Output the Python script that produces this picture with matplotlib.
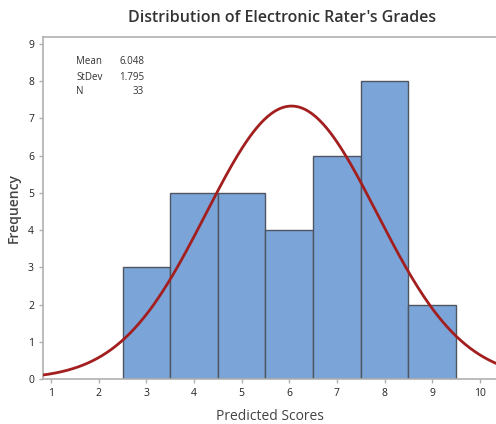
import numpy as np
import matplotlib
matplotlib.use("Agg")
import matplotlib.pyplot as plt

# histogram data
bin_centers = [3, 4, 5, 6, 7, 8, 9]
counts = [3, 5, 5, 4, 6, 8, 2]
mean = 6.048
stdev = 1.795
n = 33
x_ticks = [1, 2, 3, 4, 5, 6, 7, 8, 9, 10]
y_ticks = [0, 1, 2, 3, 4, 5, 6, 7, 8, 9]

plt.rcParams['font.family'] = ['Open Sans', 'DejaVu Sans']

fig = plt.figure(figsize=(4.96, 4.24), dpi=100)
ax = fig.add_axes([43 / 496, 1 - 379 / 424, 1 - 43 / 496, (379 - 37) / 424])

ax.bar(bin_centers, counts, width=1.0, color='#7BA5D9', edgecolor='#4F5560', linewidth=1.0, zorder=2)

# fitted normal curve scaled to counts (bin width 1)
xs = np.linspace(0.8, 10.5, 400)
ys = n * 1.0 / (stdev * np.sqrt(2 * np.pi)) * np.exp(-0.5 * ((xs - mean) / stdev) ** 2)
ax.plot(xs, ys, color='#A31F1F', linewidth=2, zorder=3)

ax.set_xlim(0.83, 10.34)
ax.set_ylim(0, 9.19)
ax.set_xticks(x_ticks)
ax.set_yticks(y_ticks)
ax.tick_params(axis='both', colors='#b0b0b0', labelcolor='#222222', labelsize=7.5, length=3, width=1)

for side in ['top', 'left', 'bottom']:
    ax.spines[side].set_color('#b0b0b0')
    ax.spines[side].set_linewidth(1.2)
ax.spines['right'].set_visible(False)

ax.set_xlabel('Predicted Scores', fontsize=10, color='#444444', labelpad=7)
ax.set_ylabel('Frequency', fontsize=10, color='#444444', fontweight='semibold', labelpad=5)
fig.text(282 / 496, 1 - 18 / 424, "Distribution of Electronic Rater's Grades",
         ha='center', va='center', fontsize=11.5, color='#333333', fontweight='semibold')

# stats box
labels = ['Mean', 'StDev', 'N']
values = ['%.3f' % mean, '%.3f' % stdev, str(n)]
for i, (lab, val) in enumerate(zip(labels, values)):
    y = 1 - (62 + i * 15) / 424
    fig.text(76 / 496, y, lab, ha='left', va='center', fontsize=7, color='#333333')
    fig.text(144 / 496, y, val, ha='right', va='center', fontsize=7, color='#333333')

fig.savefig('out.png', dpi=100)
